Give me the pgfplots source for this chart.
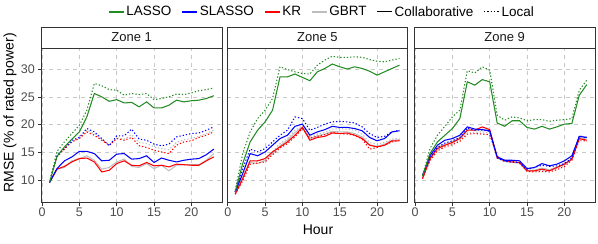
\documentclass[border=0pt]{standalone}
\usepackage{fontspec}
\setmainfont{Liberation Sans}
\usepackage{pgfplots}
\pgfplotsset{compat=1.18}
\usepackage{pgfplotstable}

\definecolor{cL}{RGB}{34,139,34}
\definecolor{cS}{RGB}{0,0,255}
\definecolor{cK}{RGB}{255,0,0}
\definecolor{cG}{RGB}{190,190,190}
\definecolor{gridgray}{RGB}{200,200,200}
\definecolor{axgray}{RGB}{51,51,51}
\definecolor{txgray}{RGB}{77,77,77}

% columns: L = LASSO, S = SLASSO, K = KR, G = GBRT; c = collaborative, l = local
\pgfplotstableread{
h Lc Ll Sc Sl Kc Kl Gc Gl
1 9.6 9.6 9.6 9.6 9.6 9.6 9.6 9.6
2 14.3 15.2 12.1 14.5 12.0 14.2 12.0 14.4
3 16.0 16.9 13.5 15.7 12.5 15.6 12.3 15.7
4 17.4 18.4 14.2 17.2 13.3 16.9 13.5 17.0
5 18.7 19.9 15.2 17.7 13.9 17.5 13.9 17.6
6 21.4 22.6 15.2 19.3 14.0 18.7 14.4 19.0
7 25.6 27.4 14.8 18.7 13.3 18.1 13.6 18.4
8 25.0 27.0 13.5 17.5 11.5 17.2 12.0 17.3
9 24.2 26.3 13.6 16.2 11.8 16.3 12.3 16.3
10 24.5 26.2 14.7 18.0 13.0 17.5 13.3 17.6
11 23.9 25.3 14.8 18.0 13.5 17.2 13.8 17.4
12 24.0 25.6 13.8 19.2 12.7 17.7 12.5 18.2
13 23.2 25.4 13.9 17.4 12.6 16.2 12.3 16.8
14 24.1 25.6 14.4 17.2 13.2 15.9 13.0 16.6
15 23.0 24.5 13.2 16.5 12.6 15.4 12.1 16.0
16 23.0 24.7 14.0 16.2 12.7 15.1 12.7 15.7
17 23.5 25.0 13.6 16.5 12.4 14.8 11.7 15.5
18 24.4 25.5 13.3 17.8 12.9 16.3 12.7 16.8
19 24.1 25.4 13.6 18.1 12.8 16.9 12.8 17.3
20 24.3 25.7 13.8 18.4 12.7 17.1 12.8 17.5
21 24.4 26.1 13.9 18.5 12.7 17.7 12.8 17.9
22 24.7 26.3 14.6 19.0 13.5 18.1 13.6 18.4
23 25.2 26.6 15.6 19.6 14.2 18.7 14.8 19.0
}\zoneone

\pgfplotstableread{
h Lc Ll Sc Sl Kc Kl Gc Gl
1 7.9 8.2 7.9 7.9 7.5 7.5 7.6 7.6
2 13.0 14.8 11.2 12.1 10.3 9.9 10.6 10.9
3 16.9 18.7 14.8 15.6 13.5 12.9 13.2 13.6
4 19.0 21.1 14.4 15.1 13.5 13.1 13.0 13.4
5 20.5 22.6 15.1 15.7 13.9 13.3 13.6 13.9
6 22.6 24.7 16.3 16.9 15.1 14.6 14.8 15.2
7 28.6 30.4 17.5 18.1 16.0 15.8 16.2 16.6
8 28.6 29.9 18.1 19.0 16.9 16.6 17.2 17.5
9 29.1 29.5 19.7 21.4 18.1 17.8 18.6 19.0
10 28.5 29.2 20.1 21.1 19.5 19.3 19.6 19.8
11 27.9 29.1 18.1 19.0 17.2 17.6 17.5 17.9
12 29.5 30.7 18.7 19.5 17.7 17.9 18.0 18.3
13 30.1 31.6 19.1 20.1 17.9 18.2 18.3 18.6
14 30.9 32.3 19.7 20.5 18.5 18.6 18.8 19.2
15 30.4 32.1 19.5 20.6 18.4 18.4 18.7 19.3
16 30.0 32.1 19.5 20.5 18.5 18.3 18.7 19.2
17 30.4 32.2 19.3 20.3 18.1 18.1 18.4 19.0
18 30.1 32.1 18.9 19.6 17.5 17.4 17.8 18.3
19 29.6 31.7 17.7 18.4 16.3 15.6 16.4 16.8
20 28.9 31.4 17.1 17.7 16.0 15.9 16.1 16.5
21 29.5 31.3 17.5 17.9 16.3 16.3 16.5 16.8
22 30.1 31.6 18.7 18.7 17.1 16.9 17.2 17.4
23 30.7 31.9 18.9 19.0 17.1 17.2 17.3 17.6
}\zonefive

\pgfplotstableread{
h Lc Ll Sc Sl Kc Kl Gc Gl
1 10.8 10.8 10.9 10.9 10.3 10.3 10.5 10.5
2 14.8 15.7 14.4 14.0 13.9 13.5 14.0 13.7
3 16.9 18.1 16.3 15.9 15.7 15.3 15.9 15.5
4 18.1 19.7 17.2 16.7 16.3 16.0 16.5 16.2
5 19.3 21.4 17.5 17.1 16.8 16.4 17.0 16.6
6 21.1 22.6 18.1 17.7 17.5 17.0 17.6 17.2
7 27.7 29.7 19.6 19.4 19.0 18.3 19.1 18.6
8 27.1 29.3 19.2 19.0 19.0 18.4 18.9 18.6
9 28.1 30.4 19.1 19.0 19.6 18.3 19.2 18.7
10 27.7 29.8 18.9 18.8 19.1 18.2 18.9 18.5
11 20.3 21.7 14.2 14.0 14.1 14.3 14.0 14.1
12 19.7 20.8 13.6 13.4 13.5 13.6 13.4 13.5
13 20.7 21.4 13.6 13.3 13.3 13.4 13.2 13.3
14 20.7 21.2 13.5 13.2 13.2 13.1 13.1 13.0
15 19.5 20.7 12.1 12.0 11.7 11.6 11.8 11.6
16 19.2 20.9 12.3 12.3 11.7 11.5 11.8 11.6
17 19.7 20.9 13.0 12.7 12.0 11.6 12.2 11.8
18 19.2 20.6 12.6 12.5 11.7 11.5 11.9 11.7
19 19.6 20.8 12.9 12.6 12.3 11.9 12.4 12.1
20 20.1 20.9 13.5 13.0 12.9 12.5 13.0 12.7
21 20.2 21.1 14.4 14.0 13.8 13.6 13.9 13.7
22 25.3 26.2 17.9 18.0 17.5 17.3 17.7 17.9
23 27.2 28.0 17.7 17.6 17.2 17.0 17.4 17.8
}\zonenine

\tikzset{
  loc/.style={dash pattern=on 1.3bp off 2bp},
  ln/.style={line width=1.05bp},
}
\pgfplotsset{
  panel/.style={
    scale only axis, width=180.7bp, height=154.7bp, anchor=south west,
    xmin=-0.1, xmax=24.1, ymin=5.97, ymax=33.78,
    xtick={0,5,10,15,20}, ytick={10,15,20,25,30},
    grid=major,
    major grid style={gridgray, line width=0.6bp, dash pattern=on 4bp off 4bp},
    axis line style={axgray, line width=1bp},
    tick align=outside, tick pos=left, major tick length=3bp,
    tick style={axgray, line width=0.6bp},
    /pgf/number format/assume math mode=true,
    tick label style={font=\fontsize{12.5bp}{14bp}\selectfont, text=txgray},
    xticklabel style={yshift=1bp},
    clip mode=individual,
  },
}

% the eight series of one zone, gray first so the others lie on top
\newcommand{\zoneplots}[1]{
  \addplot[cG, ln, forget plot] table[x=h, y=Gc] {#1};
  \addplot[cG, ln, loc, forget plot] table[x=h, y=Gl] {#1};
  \addplot[cK, ln, forget plot] table[x=h, y=Kc] {#1};
  \addplot[cK, ln, loc, forget plot] table[x=h, y=Kl] {#1};
  \addplot[cS, ln, forget plot] table[x=h, y=Sc] {#1};
  \addplot[cS, ln, loc, forget plot] table[x=h, y=Sl] {#1};
  \addplot[cL, ln, forget plot] table[x=h, y=Lc] {#1};
  \addplot[cL, ln, loc, forget plot] table[x=h, y=Ll] {#1};
}
\newcommand{\strip}[1]{
  \draw[axgray, line width=1bp, fill=white] (rel axis cs:0,1) rectangle (rel axis cs:1,1.1357);
  \node[text=black!90, font=\fontsize{13bp}{15bp}\selectfont] at (rel axis cs:0.5,1.0679) {#1};
}

\begin{document}
\begin{tikzpicture}
  \begin{axis}[panel, at={(41.3bp,41.3bp)},
    legend columns=6,
    legend image code/.code={\draw[#1] (0bp,0bp) -- (15bp,0bp);},
    legend style={at={(1.553,1.233)}, anchor=center, draw=none, fill=none,
      font=\fontsize{13.5bp}{16bp}\selectfont, inner sep=0pt,
      /tikz/every even column/.append style={column sep=8bp}},
  ]
    \addlegendimage{cL, line width=1.4bp}
    \addlegendentry{LASSO}
    \addlegendimage{cS, line width=1.4bp}
    \addlegendentry{SLASSO}
    \addlegendimage{cK, line width=1.4bp}
    \addlegendentry{KR}
    \addlegendimage{cG, line width=1.4bp}
    \addlegendentry{GBRT\hspace{18bp}}
    \addlegendimage{black, line width=1.05bp}
    \addlegendentry{Collaborative}
    \addlegendimage{black, line width=1.05bp, dash pattern=on 1.3bp off 2bp}
    \addlegendentry{Local}
    \zoneplots{\zoneone}
    \strip{Zone 1}
  \end{axis}

  \begin{axis}[panel, at={(227bp,41.3bp)}, yticklabels={}, ytick style={draw=none}]
    \zoneplots{\zonefive}
    \strip{Zone 5}
  \end{axis}

  \begin{axis}[panel, at={(414.3bp,41.3bp)}, yticklabels={}, ytick style={draw=none}]
    \zoneplots{\zonenine}
    \strip{Zone 9}
  \end{axis}

  \node[font=\fontsize{14bp}{16bp}\selectfont] at (318bp,14bp) {Hour};
  \node[font=\fontsize{14bp}{16bp}\selectfont, rotate=90] at (10bp,131bp) {RMSE (\% of rated power)};

  \pgfresetboundingbox
  \path (0bp,0bp) rectangle (598bp,244bp);
\end{tikzpicture}
\end{document}
